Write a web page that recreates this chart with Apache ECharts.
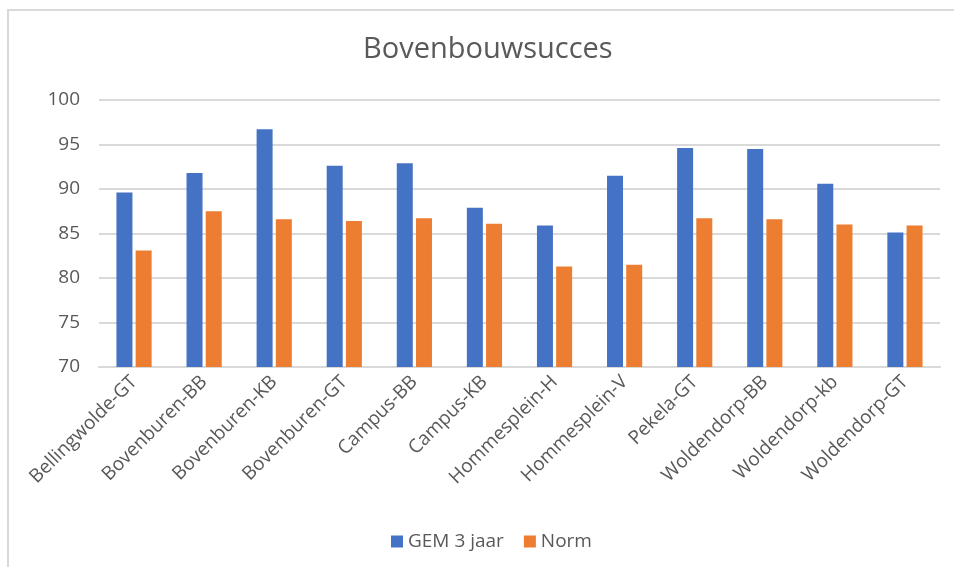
<!DOCTYPE html>
<html>
<head>
<meta charset="utf-8">
<script src="https://cdn.jsdelivr.net/npm/echarts@6/dist/echarts.min.js"></script>
<style>
html,body{margin:0;padding:0;background:#fff;}
#chart{width:954px;height:567px;}
</style>
</head>
<body>
<div id="chart"></div>
<script>
const categories = ["Bellingwolde-GT","Bovenburen-BB","Bovenburen-KB","Bovenburen-GT","Campus-BB","Campus-KB","Hommesplein-H","Hommesplein-V","Pekela-GT","Woldendorp-BB","Woldendorp-kb","Woldendorp-GT"];
const gem3jaar = [89.6, 91.8, 96.7, 92.6, 92.9, 87.9, 85.9, 91.5, 94.6, 94.5, 90.6, 85.1];
const norm = [83.1, 87.5, 86.6, 86.4, 86.7, 86.1, 81.3, 81.5, 86.7, 86.6, 86.0, 85.9];
const seriesNames = ["GEM 3 jaar", "Norm"];

const font = "Open Sans";
const textColor = "#595959";
const chart = echarts.init(document.getElementById('chart'));
chart.setOption({
  animation: false,
  textStyle: {fontFamily: font},
  graphic: [{
    type: 'polyline',
    shape: {points: [[8, 567], [8, 10], [954, 10]]},
    style: {stroke: '#D9D9D9', lineWidth: 2, fill: null}
  }],
  title: {
    text: 'Bovenbouwsucces',
    left: 358, top: 30,
    textStyle: {fontFamily: font, fontSize: 29, fontWeight: 'normal', color: textColor}
  },
  legend: {
    data: seriesNames,
    left: 386, top: 527,
    itemWidth: 12, itemHeight: 12, itemGap: 20, icon: 'rect',
    textStyle: {fontFamily: font, fontSize: 19, color: textColor}
  },
  grid: {left: 99, right: 14, top: 100, bottom: 200},
  xAxis: {
    type: 'category',
    data: categories,
    axisTick: {show: false},
    axisLine: {lineStyle: {color: '#D9D9D9', width: 2}},
    axisLabel: {rotate: 45, fontFamily: font, fontSize: 19, color: textColor, margin: 12, interval: 0}
  },
  yAxis: {
    type: 'value', min: 70, max: 100, interval: 5,
    axisLine: {show: false}, axisTick: {show: false},
    splitLine: {lineStyle: {color: '#D9D9D9', width: 2}},
    axisLabel: {fontFamily: font, fontSize: 19, color: textColor, margin: 19}
  },
  series: [
    {name: seriesNames[0], type: 'bar', data: gem3jaar, barWidth: 16, barGap: '20%', itemStyle: {color: '#4472C4'}},
    {name: seriesNames[1], type: 'bar', data: norm, barWidth: 16, barGap: '20%', itemStyle: {color: '#ED7D31'}}
  ]
});
</script>
</body>
</html>
